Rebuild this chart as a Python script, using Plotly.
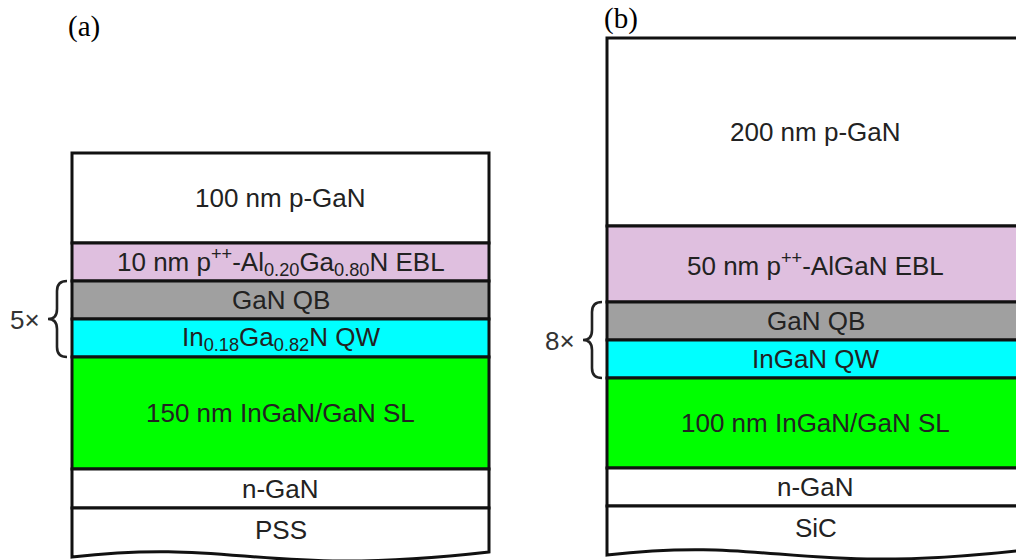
import plotly.graph_objects as go
import numpy as np

W, H = 1016, 560

# ---- data: layer stacks (drawing thickness in figure units, top to bottom) ----
labels_a = ["100 nm p-GaN",
            "10 nm p<sup>++</sup>-Al<sub>0.20</sub>Ga<sub>0.80</sub>N EBL",
            "GaN QB",
            "In<sub>0.18</sub>Ga<sub>0.82</sub>N QW",
            "150 nm InGaN/GaN SL",
            "n-GaN",
            "PSS"]
heights_a = [90, 38, 38, 38, 112, 39, 47]
repeat_a = "5×"

labels_b = ["200 nm p-GaN",
            "50 nm p<sup>++</sup>-AlGaN EBL",
            "GaN QB",
            "InGaN QW",
            "100 nm InGaN/GaN SL",
            "n-GaN",
            "SiC"]
heights_b = [188, 76, 38, 38, 90, 38, 47]
repeat_b = "8×"

layer_colors = ["#ffffff", "#dfbfdf", "#a0a0a0", "#00ffff", "#00ff00", "#ffffff", "#ffffff"]
panel_titles = ["(a)", "(b)"]

# ---- layout parameters ----
panels = [
    dict(labels=labels_a, heights=heights_a, top=153, x0=72, x1=489, rep=repeat_a,
         title=panel_titles[0], title_xy=(84, 26)),
    dict(labels=labels_b, heights=heights_b, top=38, x0=607, x1=1024, rep=repeat_b,
         title=panel_titles[1], title_xy=(621, 18)),
]

TXT = "#222222"
FONT = "Liberation Sans, Arial, sans-serif"
shapes, annotations = [], []

for p in panels:
    bounds = p["top"] + np.concatenate([[0], np.cumsum(p["heights"])])
    x0, x1 = p["x0"], p["x1"]
    w = x1 - x0
    n = len(p["labels"])
    for i in range(n):
        t, b = bounds[i], bounds[i + 1]
        if i < n - 1:
            shapes.append(dict(type="rect", xref="x", yref="y", x0=x0, x1=x1, y0=t, y1=b,
                               fillcolor=layer_colors[i], line=dict(color="#111111", width=3),
                               layer="above"))
            ty = (t + b) / 2
        else:
            # substrate with wavy broken bottom
            path = (f"M {x0},{t} L {x0},{t+49} "
                    f"C {x0+0.40*w},{t+30} {x0+0.45*w},{t+70} {x1},{t+44} "
                    f"L {x1},{t} Z")
            shapes.append(dict(type="path", xref="x", yref="y", path=path,
                               fillcolor=layer_colors[i], line=dict(color="#111111", width=3),
                               layer="above"))
            ty = t + 22
        annotations.append(dict(x=(x0 + x1) / 2, y=ty, xref="x", yref="y", text=p["labels"][i],
                                showarrow=False, xanchor="center", yanchor="middle",
                                font=dict(family=FONT, size=26, color=TXT)))
    # brace spanning QB + QW (repeated period)
    bt, bb = bounds[2], bounds[4]
    bm = (bt + bb) / 2
    bx = x0 - 5          # right ends of brace
    sx = x0 - 15         # spine
    tx = x0 - 24         # tip
    r = 10
    brace = (f"M {bx},{bt} Q {sx},{bt} {sx},{bt+r} L {sx},{bm-r} "
             f"Q {sx},{bm} {tx},{bm} Q {sx},{bm} {sx},{bm+r} "
             f"L {sx},{bb-r} Q {sx},{bb} {bx},{bb}")
    shapes.append(dict(type="path", xref="x", yref="y", path=brace,
                       line=dict(color=TXT, width=2.6)))
    annotations.append(dict(x=x0 - 47, y=bm + 1, xref="x", yref="y", text=p["rep"],
                            showarrow=False, xanchor="center", yanchor="middle",
                            font=dict(family=FONT, size=26, color="#333333")))
    annotations.append(dict(x=p["title_xy"][0], y=p["title_xy"][1], xref="x", yref="y",
                            text=p["title"], showarrow=False, xanchor="center", yanchor="middle",
                            font=dict(family="Liberation Serif, Times New Roman, serif",
                                      size=29, color="#000000")))

fig = go.Figure()
fig.update_layout(
    width=W, height=H,
    margin=dict(l=0, r=0, t=0, b=0),
    paper_bgcolor="white", plot_bgcolor="white",
    xaxis=dict(range=[0, W], visible=False, fixedrange=True),
    yaxis=dict(range=[H, 0], visible=False, fixedrange=True),
    shapes=shapes, annotations=annotations,
    showlegend=False,
)
fig.write_html("out.html")
